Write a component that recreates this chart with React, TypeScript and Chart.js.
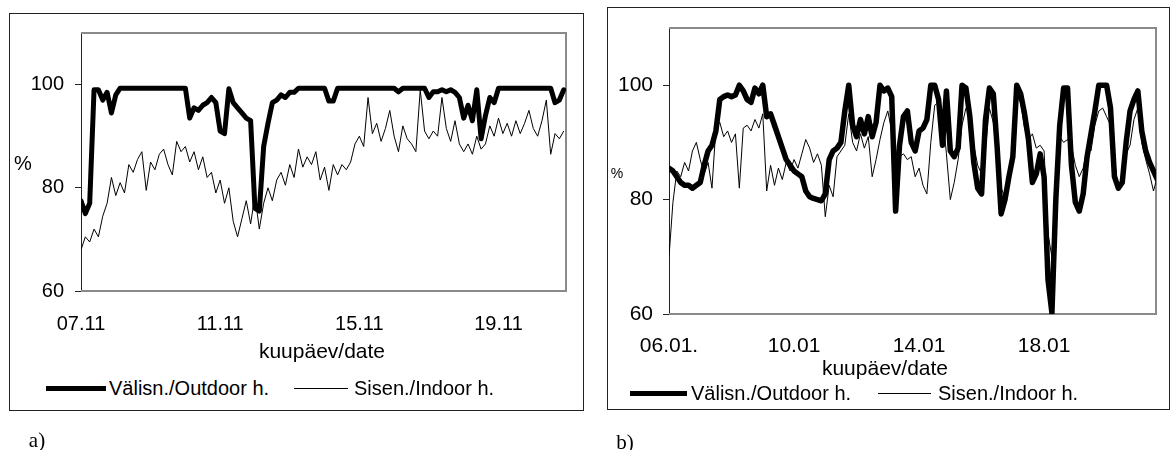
import React, { useEffect, useRef } from "react";
import { Chart, registerables } from "chart.js";

Chart.register(...registerables);

// sampling interval of the series (days, i.e. 3 hours)
const STEP_DAYS = 0.125;

const Y_TICKS = [60, 80, 100];

// ---------- chart a) 07.11 - 20.11 ----------
const A_TICK_DAYS = [0, 4, 8, 12];
const A_TICK_LABELS = ["07.11", "11.11", "15.11", "19.11"];
const A_OUTDOOR = [
  77.5, 75.0, 77.0, 99.0, 99.0, 97.0, 98.5, 94.5, 98.0, 99.3,
  99.3, 99.3, 99.3, 99.3, 99.3, 99.3, 99.3, 99.3, 99.3, 99.3,
  99.3, 99.3, 99.3, 99.3, 99.3, 93.5, 95.5, 95.0, 96.0, 96.5,
  97.5, 96.5, 91.0, 90.5, 99.2, 96.5, 95.5, 94.5, 93.5, 93.0,
  76.0, 75.5, 88.0, 92.5, 96.5, 97.0, 98.0, 97.5, 98.5, 98.5,
  99.3, 99.3, 99.3, 99.3, 99.3, 99.3, 99.3, 96.8, 96.8, 99.3,
  99.3, 99.3, 99.3, 99.3, 99.3, 99.3, 99.3, 99.3, 99.3, 99.3,
  99.3, 99.3, 99.3, 98.6, 99.3, 99.3, 99.3, 99.3, 99.3, 99.3,
  97.5, 98.6, 98.6, 99.0, 98.6, 99.0, 98.5, 97.5, 93.5, 96.0,
  93.0, 99.0, 89.5, 94.0, 97.5, 96.5, 99.3, 99.3, 99.3, 99.3,
  99.3, 99.3, 99.3, 99.3, 99.3, 99.3, 99.3, 99.3, 99.3, 96.5,
  97.0, 99.0,
];
const A_INDOOR = [
  68.0, 70.5, 69.5, 72.0, 70.5, 74.5, 77.0, 82.0, 78.5, 81.0,
  79.0, 84.5, 83.0, 85.5, 87.0, 79.5, 85.0, 83.5, 86.5, 87.5,
  84.5, 82.5, 89.0, 87.0, 88.0, 85.0, 87.0, 83.5, 86.0, 82.0,
  83.0, 79.0, 81.5, 77.0, 80.0, 73.5, 70.5, 74.0, 77.5, 73.0,
  78.5, 72.0, 77.0, 80.0, 77.5, 81.5, 83.0, 80.5, 84.5, 82.0,
  87.5, 84.0, 86.0, 84.5, 87.0, 81.5, 84.0, 79.5, 84.5, 82.5,
  84.5, 83.5, 85.0, 88.5, 90.0, 88.0, 97.5, 90.5, 92.5, 89.0,
  91.5, 95.0, 90.0, 87.0, 92.0, 89.5, 88.5, 87.0, 99.0, 91.0,
  89.5, 91.0, 90.0, 97.5, 91.5, 89.0, 93.0, 88.5, 87.0, 88.5,
  86.5, 90.0, 87.5, 88.5, 92.0, 90.0, 93.5, 90.5, 92.5, 90.0,
  93.0, 90.5, 92.5, 95.0, 91.5, 90.0, 93.0, 97.0, 86.5, 90.5,
  89.5, 91.0,
];
const A_X_MAX = 13.94;

// ---------- chart b) 06.01 - 21.01 ----------
const B_TICK_DAYS = [0, 4, 8, 12];
const B_TICK_LABELS = ["06.01.", "10.01", "14.01", "18.01"];
const B_OUTDOOR = [
  85.5, 85.0, 84.0, 83.0, 82.5, 82.5, 82.0, 82.5, 83.0, 86.0,
  88.5, 89.5, 92.0, 97.5, 98.0, 98.3, 98.0, 98.3, 100.0, 99.0,
  97.5, 97.0, 99.5, 98.5, 100.0, 94.5, 95.0, 93.0, 91.0, 89.0,
  87.0, 86.0, 85.0, 84.5, 84.0, 81.5, 80.5, 80.2, 80.0, 79.8,
  81.0, 87.0, 88.5, 89.0, 90.0, 95.5, 100.0, 93.0, 91.0, 94.0,
  91.5, 94.5, 91.0, 93.5, 100.0, 99.0, 99.5, 98.0, 78.0, 89.5,
  94.5, 95.5, 90.0, 88.5, 92.0, 92.5, 94.0, 100.0, 100.0, 97.5,
  89.5, 99.0, 88.5, 87.5, 89.0, 100.0, 99.5, 94.5, 86.5, 82.0,
  81.0, 94.0, 99.5, 98.5, 89.0, 77.5, 80.0, 84.0, 87.5, 100.0,
  98.5, 95.0, 90.5, 83.0, 84.5, 88.0, 84.0, 66.0, 60.2, 80.0,
  93.0, 99.5, 99.5, 86.0, 79.5, 78.0, 81.0, 87.5, 91.5, 95.5,
  100.0, 100.0, 100.0, 96.0, 84.0, 82.0, 83.0, 90.0, 95.5, 97.5,
  99.0, 92.0, 88.5, 86.5, 85.0, 83.5,
];
const B_INDOOR = [
  70.0, 79.5, 85.0, 84.0, 86.5, 85.0, 88.5, 90.0, 87.0, 84.5,
  86.5, 82.0, 92.5, 93.5, 91.0, 92.0, 90.0, 91.5, 82.0, 92.5,
  93.0, 92.0, 94.0, 92.5, 95.0, 81.5, 86.0, 82.5, 85.5, 83.5,
  86.5, 85.0, 87.0, 85.5, 88.0, 90.5, 89.0, 86.5, 88.0, 86.0,
  77.0, 82.5, 80.5, 87.5, 88.5, 89.5, 95.0, 90.0, 88.5, 91.5,
  89.0, 91.0, 84.0, 87.0, 90.5, 93.5, 95.5, 92.0, 88.0, 87.5,
  88.0, 87.0, 87.5, 84.0, 85.5, 82.5, 81.0, 90.0, 96.5, 97.0,
  95.5, 88.0, 80.0, 83.0, 87.0, 93.0, 96.0, 95.5, 89.5, 86.0,
  84.5, 89.0, 96.0, 93.5, 88.0, 82.0, 80.5, 84.5, 90.0, 98.0,
  97.0, 92.5, 90.5, 91.5, 89.0, 89.5, 88.5, 74.0, 70.0, 84.0,
  91.0, 90.0, 90.5, 89.5, 86.0, 84.0, 85.5, 89.0, 88.5, 93.0,
  95.5, 96.0, 94.5, 93.0, 87.5, 81.5, 84.0, 88.0, 89.5, 94.0,
  96.0, 90.0, 87.0, 84.5, 81.5, 84.0,
];
const B_X_MAX = 15.58;

const SANS = "'Liberation Sans', Arial, Helvetica, sans-serif";
const SERIF = "'Liberation Serif', 'Times New Roman', serif";

const plotFrame = {
  id: "plotFrame",
  beforeDatasetsDraw(chart: any) {
    const { ctx, chartArea } = chart;
    const { left, top, right, bottom } = chartArea;
    ctx.save();
    ctx.strokeStyle = "#8a8a8a";
    ctx.lineWidth = 2;
    ctx.beginPath();
    ctx.moveTo(left, top);
    ctx.lineTo(right, top);
    ctx.lineTo(right, bottom);
    ctx.lineTo(left, bottom);
    ctx.stroke();
    ctx.restore();
  },
};

type Area = { left: number; top: number; right: number; bottom: number };

function toPoints(values: number[]) {
  return values.map((v, i) => ({ x: i * STEP_DAYS, y: v }));
}

function HumidityChart(props: {
  outdoor: number[];
  indoor: number[];
  tickDays: number[];
  tickLabels: string[];
  xMax: number;
  width: number;
  height: number;
  posLeft: number;
  posTop: number;
  area: Area;
  fontSize: number;
  yPad: number;
  xPad: number;
  thick: number;
}) {
  const ref = useRef<HTMLCanvasElement | null>(null);
  useEffect(() => {
    const p = props;
    const canvas = ref.current!;
    const chart = new Chart(canvas, {
      type: "line",
      data: {
        datasets: [
          {
            label: "Välisn./Outdoor h.",
            data: toPoints(p.outdoor),
            borderColor: "#000",
            borderWidth: p.thick,
            borderJoinStyle: "round",
            borderCapStyle: "round",
            pointRadius: 0,
            tension: 0,
            fill: false,
          },
          {
            label: "Sisen./Indoor h.",
            data: toPoints(p.indoor),
            borderColor: "#000",
            borderWidth: 1,
            pointRadius: 0,
            tension: 0,
            fill: false,
          },
        ],
      },
      options: {
        animation: false,
        responsive: false,
        maintainAspectRatio: false,
        devicePixelRatio: 1,
        events: [],
        layout: {
          padding: {
            left: 0,
            top: p.area.top,
            right: p.width - p.area.right,
            bottom: 0,
          },
        },
        plugins: {
          legend: { display: false },
          tooltip: { enabled: false },
          title: { display: false },
        },
        scales: {
          x: {
            type: "linear",
            min: 0,
            max: p.xMax,
            afterBuildTicks: (s: any) => {
              s.ticks = p.tickDays.map((v) => ({ value: v }));
            },
            afterFit: (s: any) => {
              s.height = p.height - p.area.bottom;
            },
            grid: { display: false, drawTicks: false },
            border: { display: false },
            ticks: {
              autoSkip: false,
              maxRotation: 0,
              minRotation: 0,
              padding: p.xPad,
              color: "#000",
              font: { family: SANS, size: p.fontSize },
              callback: (_v: any, i: number) => p.tickLabels[i],
            },
          },
          y: {
            type: "linear",
            min: 60,
            max: 110,
            afterBuildTicks: (s: any) => {
              s.ticks = Y_TICKS.map((v) => ({ value: v }));
            },
            afterFit: (s: any) => {
              s.width = p.area.left;
            },
            grid: {
              drawOnChartArea: false,
              drawTicks: true,
              tickLength: 6,
              color: "#222",
              lineWidth: 1,
            },
            border: { display: true, color: "#222", width: 1 },
            ticks: {
              padding: p.yPad,
              color: "#000",
              font: { family: SANS, size: p.fontSize },
              callback: (v: any) => String(v),
            },
          },
        },
      },
      plugins: [plotFrame],
    } as any);
    return () => chart.destroy();
  }, []);
  return (
    <canvas
      ref={ref}
      width={props.width}
      height={props.height}
      style={{
        position: "absolute",
        left: props.posLeft,
        top: props.posTop,
        width: props.width,
        height: props.height,
      }}
    />
  );
}

function Txt(props: {
  x: number;
  y: number;
  size: number;
  text: string;
  align?: "center" | "left";
  family?: string;
}) {
  const centered = props.align !== "left";
  return (
    <div
      style={{
        position: "absolute",
        left: props.x,
        top: props.y,
        transform: centered ? "translate(-50%, -50%)" : "translate(0, -50%)",
        fontFamily: props.family || SANS,
        fontSize: props.size,
        lineHeight: 1,
        whiteSpace: "nowrap",
        color: "#000",
      }}
    >
      {props.text}
    </div>
  );
}

function LegendLine(props: { x: number; y: number; w: number; h: number }) {
  return (
    <div
      style={{
        position: "absolute",
        left: props.x,
        top: props.y - props.h / 2,
        width: props.w,
        height: props.h,
        background: "#000",
      }}
    />
  );
}

function Box(props: { l: number; t: number; r: number; b: number }) {
  return (
    <div
      style={{
        position: "absolute",
        left: props.l,
        top: props.t,
        width: props.r - props.l,
        height: props.b - props.t,
        border: "1px solid #222",
        boxSizing: "border-box",
      }}
    />
  );
}

export default function App() {
  return (
    <div
      style={{
        position: "fixed",
        left: 0,
        top: 0,
        width: 1176,
        height: 450,
        background: "#fff",
        overflow: "hidden",
      }}
    >
      <Box l={9} t={13} r={584} b={411} />
      <Box l={607} t={7} r={1170} b={410} />

      <HumidityChart
        outdoor={A_OUTDOOR}
        indoor={A_INDOOR}
        tickDays={A_TICK_DAYS}
        tickLabels={A_TICK_LABELS}
        xMax={A_X_MAX}
        width={590}
        height={340}
        posLeft={0}
        posTop={0}
        area={{ left: 81, top: 33, right: 566, bottom: 291 }}
        fontSize={20}
        yPad={11}
        xPad={21}
        thick={5}
      />
      <HumidityChart
        outdoor={B_OUTDOOR}
        indoor={B_INDOOR}
        tickDays={B_TICK_DAYS}
        tickLabels={B_TICK_LABELS}
        xMax={B_X_MAX}
        width={581}
        height={380}
        posLeft={595}
        posTop={0}
        area={{ left: 74, top: 28, right: 561, bottom: 314 }}
        fontSize={21}
        yPad={10}
        xPad={20}
        thick={5.5}
      />

      {/* chart a texts */}
      <Txt x={23} y={163} size={20} text="%" />
      <Txt x={322} y={350} size={21} text="kuupäev/date" />
      <LegendLine x={46} y={388} w={60} h={5} />
      <Txt x={109} y={388} size={20} text="Välisn./Outdoor h." align="left" />
      <LegendLine x={294} y={388} w={54} h={1} />
      <Txt x={354} y={388} size={20} text="Sisen./Indoor h." align="left" />
      <Txt x={37} y={440} size={21} text="a)" family={SERIF} />

      {/* chart b texts */}
      <Txt x={617} y={173} size={14} text="%" />
      <Txt x={885} y={367} size={21} text="kuupäev/date" />
      <LegendLine x={630} y={393} w={57} h={5} />
      <Txt x={691} y={393} size={20} text="Välisn./Outdoor h." align="left" />
      <LegendLine x={878} y={393} w={53} h={1} />
      <Txt x={938} y={393} size={20} text="Sisen./Indoor h." align="left" />
      <Txt x={625} y={442} size={21} text="b)" family={SERIF} />
    </div>
  );
}
